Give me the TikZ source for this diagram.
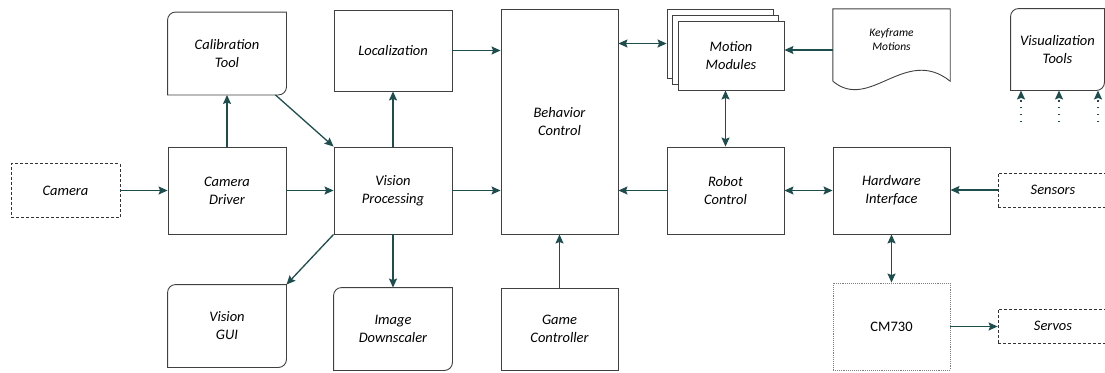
\documentclass[tikz,border=0pt]{standalone}
\usepackage{fontspec}
\setmainfont{Carlito}
\usetikzlibrary{arrows.meta}
\definecolor{flowteal}{RGB}{30,77,78}
% frame with rounded top left and bottom right corners
\newcommand\softframe[1]{%
  \draw [frame] (#1.south west) -- ([yshift=-8pt]#1.north west)
     arc [start angle=180,end angle=90,radius=8pt] -- (#1.north east)
     -- ([yshift=8pt]#1.south east)
     arc [start angle=0,end angle=-90,radius=8pt] -- cycle;}

\begin{document}
\begin{tikzpicture}[x=1pt,y=-1pt,
   font=\itshape\fontsize{14.5}{18}\selectfont,
   >={Stealth[length=9pt,width=8pt,inset=1.5pt]},
   frame/.style={draw=black!75,line width=0.9pt},
   block/.style={frame,align=center,inner sep=0pt,minimum width=118pt,minimum height=87pt},
   soft/.style={block,draw=none,minimum height=82pt},
   layer/.style={block,fill=white,minimum width=106pt,minimum height=69pt},
   extbox/.style={draw=black!80,line width=0.8pt,dash pattern=on 3pt off 2pt,align=center,minimum width=110pt,minimum height=34pt},
   flow/.style={draw=flowteal,line width=1.3pt,->}]
   \useasboundingbox (0,0) rectangle (1105,372);
   % Camera chain
   \node [extbox,minimum width=109pt,minimum height=54pt] (cam) at (65.5,190.5) {Camera};
   \node [block] (drv) at (227,190.5) {Camera\\Driver};
   \node [soft] (cal) at (227,53.5) {Calibration\\Tool};
   \node [soft] (gui) at (227,326) {Vision\\GUI};
   % Vision
   \node [block] (vp) at (393,190.5) {Vision\\Processing};
   \node [block,minimum height=81pt] (loc) at (393,50.5) {Localization};
   \node [soft] (ds) at (393,329) {Image\\Downscaler};
   % Behavior
   \node [block,minimum width=117pt,minimum height=225pt] (beh) at (559.5,121.5) {Behavior\\Control};
   \node [block,minimum width=117pt,minimum height=82pt] (gc) at (559.5,329) {Game\\Controller};
   % Motion (stacked)
   \node [layer] (mm3) at (720,43.5) {};
   \node [layer] (mm2) at (725,49.5) {};
   \node [layer] (mm) at (731,55.5) {Motion\\Modules};
   \node [block,minimum width=117pt] (rc) at (725.5,190.5) {Robot\\Control};
   % Keyframes (document shape)
   \node [align=center,inner sep=0pt,minimum width=117pt,minimum height=62pt,
          font=\itshape\fontsize{11.5}{14}\selectfont] (kf) at (891.5,40) {Keyframe\\Motions};
   \draw [frame] ([yshift=-10pt]kf.south west) -- (kf.north west) -- (kf.north east)
        -- ([yshift=-10pt]kf.south east) .. controls +(-45,-36) and +(37,31) .. ([yshift=-10pt]kf.south west);
   % Hardware
   \node [block,minimum width=117pt] (hw) at (891.5,190.5) {Hardware\\Interface};
   \node [block,draw=gray,densely dotted,minimum width=117pt,
          font=\fontsize{14.5}{18}\selectfont\upshape] (cm) at (891.5,326.5) {CM730};
   \node [extbox] (sen) at (1053,190) {Sensors};
   \node [extbox] (srv) at (1053,326) {Servos};
   \node [soft,minimum width=93pt,minimum height=81pt] (viz) at (1057.5,49.5) {Visualization\\Tools};
   \foreach \n in {cal,gui,ds,viz} {\softframe{\n}}
   % Connections
   \draw [flow] (cam) -- (drv);
   \draw [flow] (drv) -- (vp);
   \draw [flow] (drv) -- (cal);
   \draw [flow] ([xshift=-11pt]cal.south east) -- (vp.north west);
   \draw [flow] (vp) -- (loc);
   \draw [flow] (vp.south west) -- (gui.north east);
   \draw [flow] (vp) -- (ds);
   \draw [flow] (loc.east) -- (loc.east -| beh.west);
   \draw [flow] (vp.east) -- (vp.east -| beh.west);
   \draw [flow] (gc) -- (beh);
   \draw [flow] (rc.west) -- (rc.west -| beh.east);
   \draw [flow,<->] (mm3.west -| beh.east) -- (mm3.west);
   \draw [flow] ([yshift=-10pt]kf.west) -- ([yshift=-10pt]kf.west -| mm.east);
   \draw [flow,<->] (rc.north) -- (rc.north |- mm.south);
   \draw [flow,<->] (rc) -- (hw);
   \draw [flow] (sen.west) -- (sen.west -| hw.east);
   \draw [flow,<->] (hw) -- (cm);
   \draw [flow] (cm.east) -- (cm.east -| srv.west);
   % Inputs of the visualization tools
   \foreach \x [count=\i] in {1021,1059,1098} {
      \coordinate (vin\i) at (\x,122);
      \draw [flow,dash pattern=on 1.3pt off 5.5pt] (vin\i) -- (vin\i |- viz.south);
   }
\end{tikzpicture}
\end{document}
